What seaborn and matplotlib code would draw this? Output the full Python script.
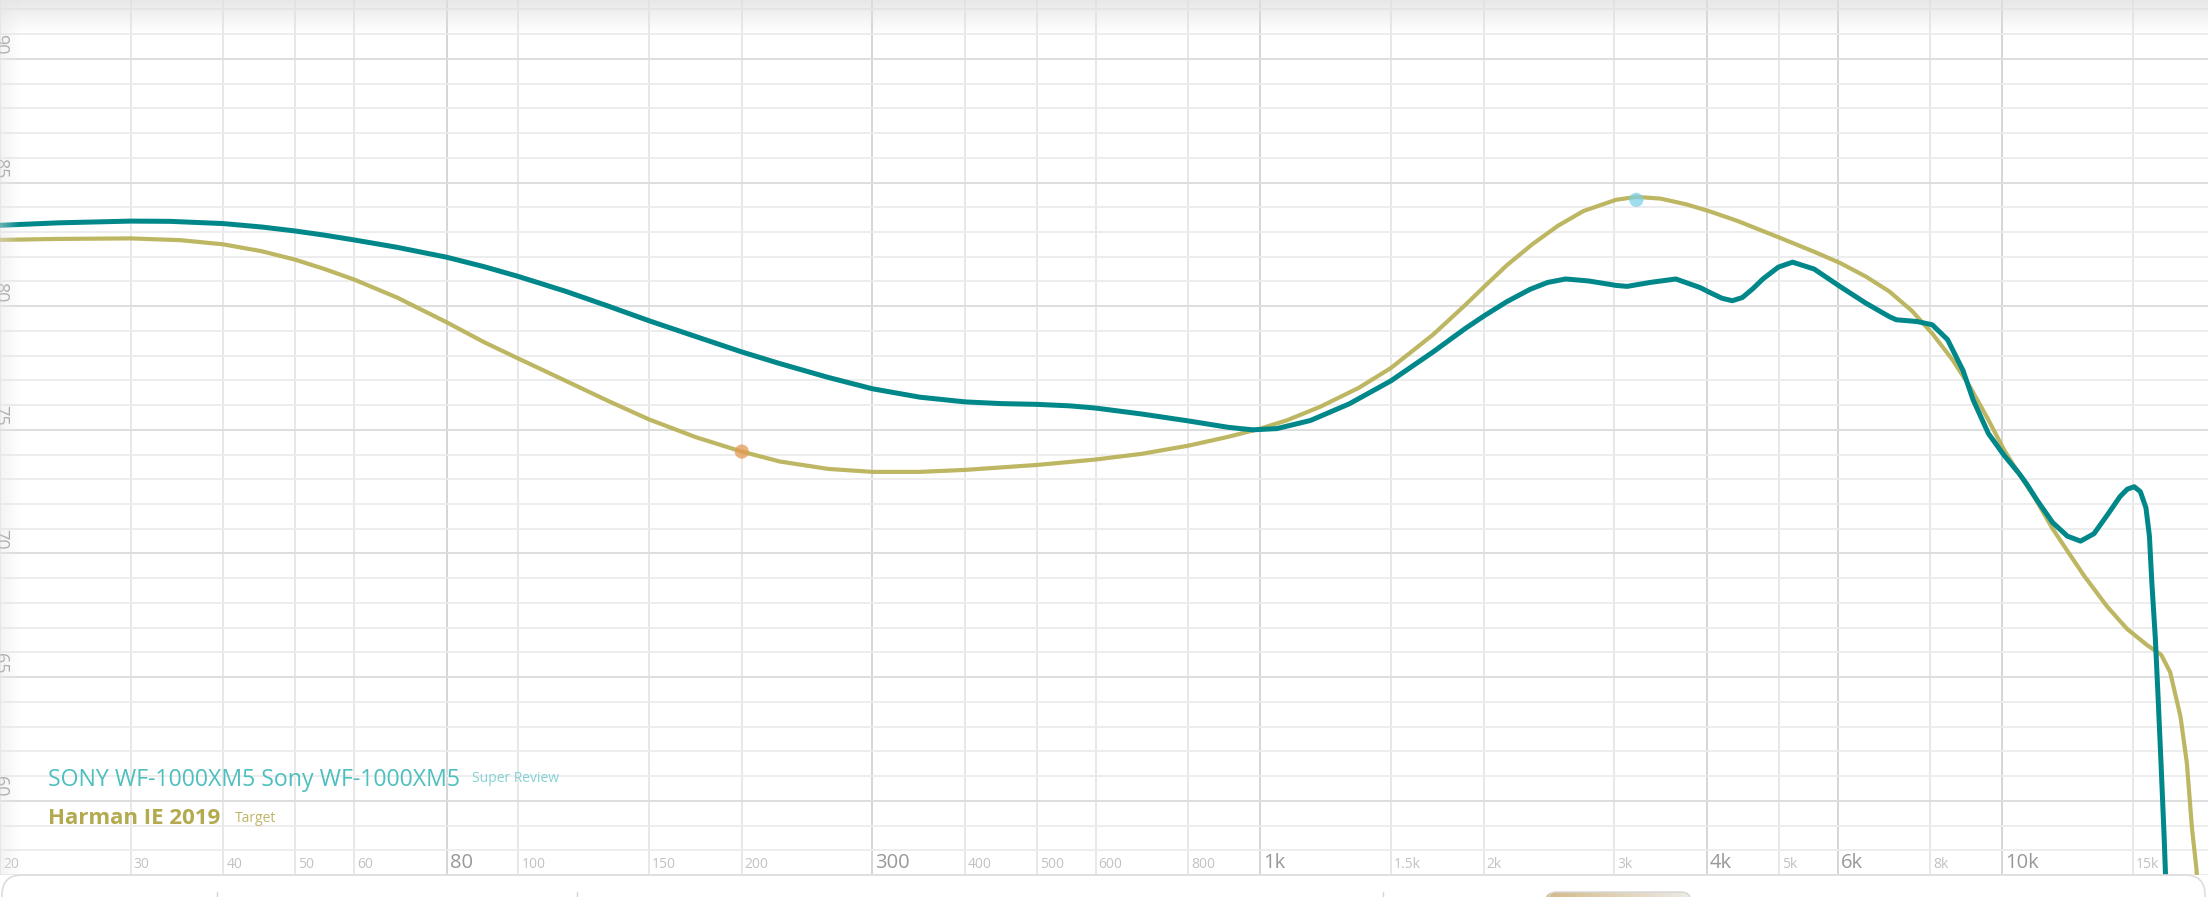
import numpy as np
import pandas as pd
import matplotlib
matplotlib.use("Agg")
import matplotlib.pyplot as plt
import matplotlib.transforms as mtransforms
from matplotlib.patches import FancyBboxPatch
import seaborn as sns

# ---------------- data ----------------
sony_freq = [20, 24, 30, 33.9, 40, 45.1, 50, 54.8, 60, 68.6, 80, 89.8, 100, 115.8, 132.5, 150, 173.5, 200,
             225, 261.5, 300, 347.6, 400, 448, 500, 553, 600, 692, 800, 906, 977, 1053, 1169, 1318, 1500,
             1710, 1890, 2006, 2149, 2310, 2440, 2580, 2771, 3016, 3123, 3354, 3632, 3919, 4020, 4192,
             4328, 4466, 4611, 4760, 4994, 5220, 5581, 6045, 6545, 7044, 7202, 7674, 8050, 8442, 8858,
             9144, 9585, 10057, 10552, 10800, 11150, 11700, 12250, 12760, 13300, 13860, 14420, 14750,
             15070, 15360, 15630, 15800, 15920, 16090, 16230, 16380, 16540, 16600, 16900]
sony_spl = [83.27, 83.37, 83.44, 83.43, 83.34, 83.2, 83.04, 82.87, 82.68, 82.38, 81.98, 81.6, 81.2,
            80.6, 79.99, 79.41, 78.77, 78.15, 77.68, 77.12, 76.66, 76.32, 76.13, 76.06, 76.03, 75.97, 75.88,
            75.64, 75.36, 75.1, 75.0, 75.05, 75.38, 76.05, 76.98, 78.15, 79.1, 79.62, 80.18, 80.68, 80.96,
            81.1, 81.02, 80.84, 80.8, 80.96, 81.1, 80.75, 80.58, 80.32, 80.22, 80.35, 80.7, 81.1,
            81.58, 81.78, 81.5, 80.8, 80.13, 79.58, 79.45, 79.38, 79.25, 78.65, 77.4, 76.2, 74.85, 73.98,
            73.22, 72.8, 72.15, 71.25, 70.7, 70.5, 70.8, 71.55, 72.3, 72.6, 72.7, 72.5, 71.85, 70.7,
            68.8, 66.6, 64.2, 61.5, 58.5, 57.2, 50.0]

target_freq = [20, 24, 30, 35, 40, 45.1, 50, 54.8, 60, 68.6, 80, 89.8, 100, 115.8, 132.5, 150, 173.5, 200,
               225, 261.5, 300, 347.6, 400, 500, 600, 692, 800, 906, 1000, 1085, 1204, 1358, 1500, 1710,
               1885, 2006, 2149, 2326, 2519, 2728, 3016, 3213, 3463, 3750, 4020, 4396, 5032, 5581, 6045,
               6550, 7044, 7554, 8050, 8580, 9059, 9585, 10057, 10552, 11070, 11700, 12250, 12900, 13860,
               14740, 15680, 16390, 16850, 17400, 17750, 18030, 18290, 18700]
target_spl = [82.68, 82.72, 82.74, 82.67, 82.5, 82.22, 81.88, 81.5, 81.08, 80.35, 79.35, 78.55, 77.88,
              76.98, 76.15, 75.42, 74.7, 74.12, 73.72, 73.42, 73.3, 73.3, 73.38, 73.58, 73.8, 74.03, 74.36,
              74.72, 75.05, 75.38, 75.93, 76.7, 77.5, 78.85, 80.02, 80.8, 81.65, 82.5, 83.25, 83.85, 84.3,
              84.42, 84.35, 84.12, 83.85, 83.45, 82.75, 82.2, 81.75, 81.2, 80.6, 79.82, 78.9, 77.82,
              76.72, 75.4, 74.2, 73.2, 72.25, 71.0, 70.1, 69.1, 67.85, 66.95, 66.3, 65.9, 65.2,
              63.4, 61.5, 58.9, 57.2, 52.0]

marker_freq = [200, 3213]
marker_spl = [74.12, 84.3]
marker_colors = ["#e39a55", "#7ed2e8"]

x_major_ticks = [80, 300, 1000, 4000, 6000, 10000]
x_major_labels = ["80", "300", "1k", "4k", "6k", "10k"]
x_minor_ticks = [20, 30, 40, 50, 60, 100, 150, 200, 400, 500, 600, 800, 1500, 2000, 3000, 5000, 8000, 15000]
x_minor_labels = ["20", "30", "40", "50", "60", "100", "150", "200", "400", "500", "600", "800",
                  "1.5k", "2k", "3k", "5k", "8k", "15k"]
y_label_ticks = [60, 65, 70, 75, 80, 85, 90]
y_minor_ticks = list(range(57, 93))

sony_name = "SONY WF-1000XM5 Sony WF-1000XM5"
sony_tag = "Super Review"
target_name = "Harman IE 2019"
target_tag = "Target"

TEAL = "#00878a"
OLIVE = "#bab25a"

# ---------------- style ----------------
sns.set_style("white")
plt.rcParams["font.family"] = ["Open Sans", "DejaVu Sans"]

W, H = 2208, 897
fig = plt.figure(figsize=(W / 100, H / 100), dpi=100)
fig.patch.set_facecolor("white")
PANEL_TOP = 875
ax = fig.add_axes([0, (H - PANEL_TOP) / H, 1, PANEL_TOP / H])
ax.set_xscale("log")
ax.set_xlim(20.7, 18950)
ax.set_ylim(57.17, 92.38)
for s in ax.spines.values():
    s.set_visible(False)

ax.set_xticks(x_major_ticks)
ax.set_xticks(x_minor_ticks, minor=True)
ax.set_yticks(y_label_ticks)
ax.set_yticks(y_minor_ticks, minor=True)
ax.tick_params(which="both", length=0, labelbottom=False, labelleft=False)
ax.grid(which="major", axis="x", color="#d2d2d2", lw=1.3, zorder=0)
ax.grid(which="minor", axis="x", color="#e6e6e6", lw=1.3, zorder=0)
ax.grid(which="major", axis="y", color="#dedede", lw=1.4, zorder=0)
ax.grid(which="minor", axis="y", color="#ececec", lw=1.3, zorder=0)
ax.set_axisbelow(True)

df_t = pd.DataFrame({"freq": target_freq, "spl": target_spl})
df_s = pd.DataFrame({"freq": sony_freq, "spl": sony_spl})
sns.lineplot(data=df_t, x="freq", y="spl", ax=ax, color=OLIVE, lw=3.0, zorder=3,
             solid_joinstyle="round", solid_capstyle="round", alpha=0.95)
sns.lineplot(data=df_s, x="freq", y="spl", ax=ax, color=TEAL, lw=3.6, zorder=4,
             solid_joinstyle="round", solid_capstyle="round")
df_m = pd.DataFrame({"freq": marker_freq, "spl": marker_spl, "c": marker_colors})
sns.scatterplot(data=df_m, x="freq", y="spl", ax=ax, hue="c", palette=dict(zip(marker_colors, marker_colors)),
                s=105, alpha=0.75, edgecolor="none", legend=False, zorder=5)
ax.set_xlabel("")
ax.set_ylabel("")

def px(dx, dy):
    return mtransforms.ScaledTranslation(dx / 100, dy / 100, fig.dpi_scale_trans)

bx = mtransforms.blended_transform_factory(ax.transData, ax.transAxes)
for f, lab in zip(x_major_ticks, x_major_labels):
    ax.text(f, 0, lab, transform=bx + px(3, 7), ha="left", va="baseline",
            fontsize=14.5, color="#999999", clip_on=False, zorder=6)
for f, lab in zip(x_minor_ticks, x_minor_labels):
    ax.text(f, 0, lab, transform=bx + px(3, 7), ha="left", va="baseline",
            fontsize=10, color="#c2c2c2", clip_on=False, zorder=6)

by = mtransforms.blended_transform_factory(ax.transAxes, ax.transData)
for v in y_label_ticks:
    ax.text(0, v, str(v), transform=by + px(9, 4), ha="right", va="bottom", rotation=-90,
            fontsize=13, color="#999999", clip_on=False, zorder=6)

# ---------------- overlay (UI chrome + legend) ----------------
ui = fig.add_axes([0, 0, 1, 1], facecolor="none")
ui.set_xlim(0, W)
ui.set_ylim(H, 0)
ui.axis("off")

# top shadow
grad = np.zeros((40, 2, 4))
grad[..., :3] = 0.88
grad[..., 3] = np.linspace(0.75, 0.0, 40)[:, None]
ui.imshow(grad, extent=[0, W, 34, 0], aspect="auto", zorder=1, interpolation="bilinear")
gl = np.zeros((2, 40, 4))
gl[..., :3] = 0.9
gl[..., 3] = np.linspace(0.45, 0.0, 40)[None, :]
ui.imshow(gl, extent=[0, 20, PANEL_TOP, 0], aspect="auto", zorder=1, interpolation="bilinear")
ui.set_xlim(0, W)
ui.set_ylim(H, 0)

# bottom panel
panel = FancyBboxPatch((2, PANEL_TOP), W - 5, 80, boxstyle="round,pad=0,rounding_size=20",
                       fc="white", ec="#dcdcdc", lw=1.2, zorder=2)
ui.add_patch(panel)
sep_x = [217, 577, 1383]
for sx in sep_x:
    ui.plot([sx, sx], [892, H], color="#d4d4d4", lw=1.0, zorder=3)
btn = FancyBboxPatch((1545, 892), 146, 40, boxstyle="round,pad=0,rounding_size=10",
                     fc="none", ec="#d6d6d6", lw=1.0, zorder=4)
ui.add_patch(btn)
bg = np.zeros((2, 60, 3))
c0 = np.array([0.83, 0.73, 0.54])
c1 = np.array([0.93, 0.92, 0.90])
t = np.linspace(0, 1, 60)
bg[:, :, :] = (c0[None, :] * (1 - t[:, None]) + c1[None, :] * t[:, None])[None, :, :]
im = ui.imshow(bg, extent=[1545, 1691, 932, 892], aspect="auto", zorder=3, interpolation="bilinear")
im.set_clip_path(btn)
ui.set_xlim(0, W)
ui.set_ylim(H, 0)

# legend texts
fig.canvas.draw()
r = fig.canvas.get_renderer()
t1 = ui.text(48, 786, sony_name, fontsize=16.7, color="#4ebfbf", va="baseline", ha="left", zorder=6)
e1 = t1.get_window_extent(r).transformed(ui.transData.inverted())
ui.text(max(e1.x0, e1.x1) + 12, 782, sony_tag, fontsize=10, color="#85d2d6", va="baseline", ha="left", zorder=6)
t2 = ui.text(48, 824, target_name, fontsize=16, fontweight="bold", color="#b3a94d", va="baseline", ha="left", zorder=6)
e2 = t2.get_window_extent(r).transformed(ui.transData.inverted())
ui.text(max(e2.x0, e2.x1) + 15, 822, target_tag, fontsize=10, color="#bfb566", va="baseline", ha="left", zorder=6)

fig.savefig("out.png", dpi=100, facecolor="white")
